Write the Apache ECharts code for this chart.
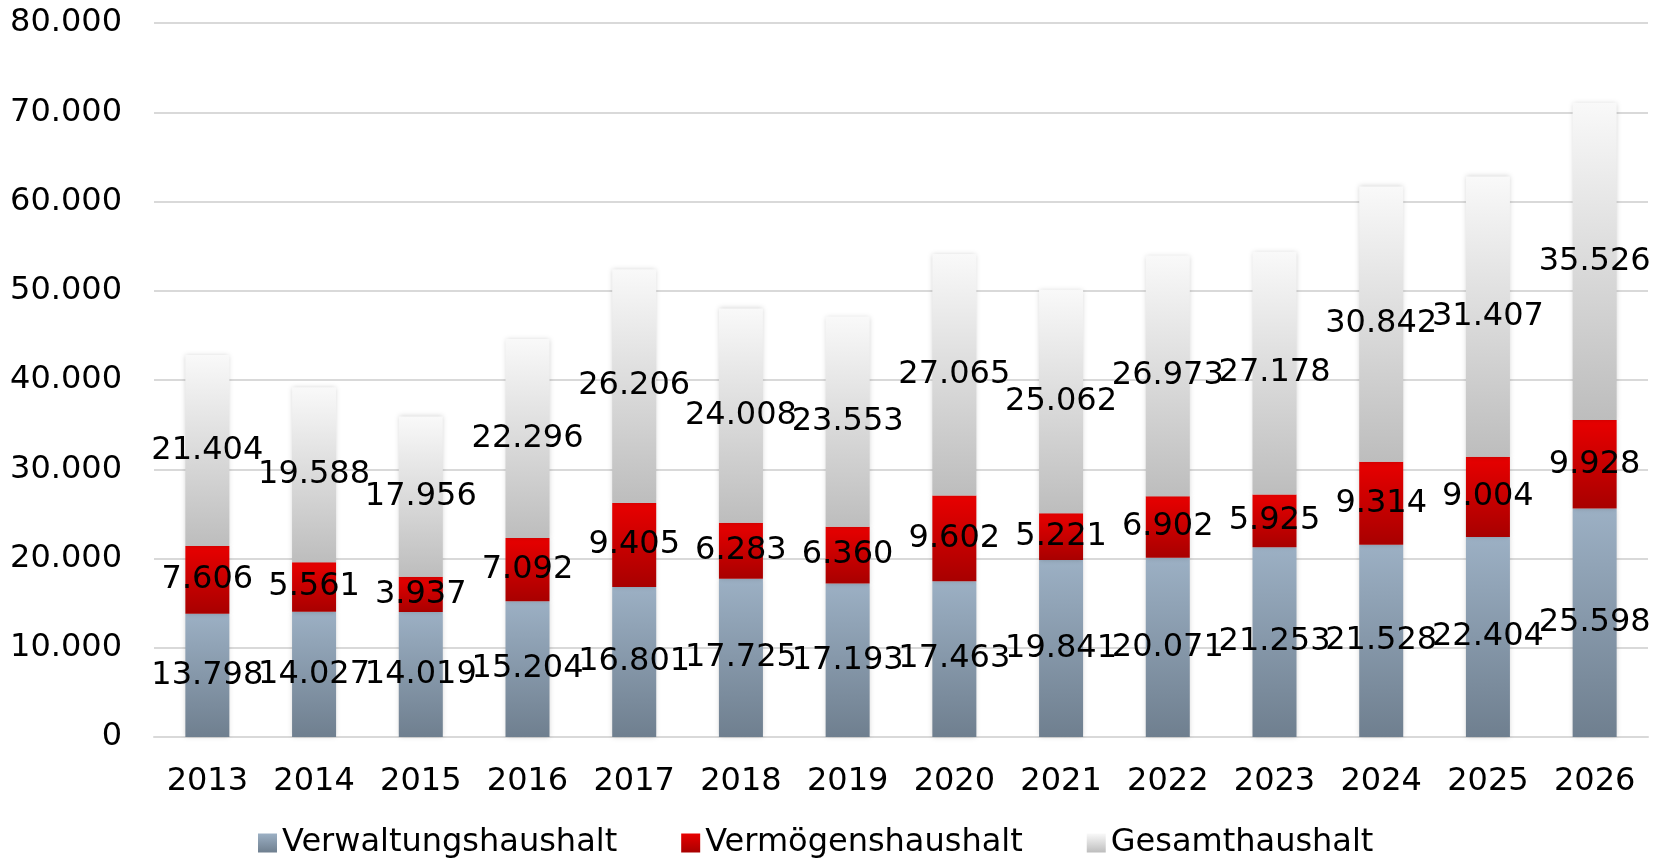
<!DOCTYPE html>
<html>
<head>
<meta charset="utf-8">
<script src="https://cdn.jsdelivr.net/npm/echarts@6/dist/echarts.min.js"></script>
<style>
html, body { margin: 0; padding: 0; background: #fff; }
#myChart { width: 1657px; height: 861px; }
</style>
</head>
<body>
<div id="myChart"></div>
<script>
var years = ['2013', '2014', '2015', '2016', '2017', '2018', '2019', '2020', '2021', '2022', '2023', '2024', '2025', '2026'];
var verwaltung = [13798, 14027, 14019, 15204, 16801, 17725, 17193, 17463, 19841, 20071, 21253, 21528, 22404, 25598];
var vermoegen = [7606, 5561, 3937, 7092, 9405, 6283, 6360, 9602, 5221, 6902, 5925, 9314, 9004, 9928];
var gesamt = [21404, 19588, 17956, 22296, 26206, 24008, 23553, 27065, 25062, 26973, 27178, 30842, 31407, 35526];

var fontName = 'DejaVu Sans';
var fontSize = 32;

// Zahl mit Tausenderpunkt
function fmt(v) {
    return String(v).replace(/\B(?=(\d{3})+(?!\d))/g, '.');
}

function grad(top, bottom) {
    return new echarts.graphic.LinearGradient(0, 0, 0, 1, [
        { offset: 0, color: top },
        { offset: 1, color: bottom }
    ]);
}

var labelCfg = {
    show: true,
    position: 'inside',
    color: '#000',
    fontFamily: fontName,
    fontSize: fontSize,
    formatter: function(p) { return fmt(p.value); }
};

var barShadow = {
    shadowBlur: 5,
    shadowColor: 'rgba(0,0,0,0.18)'
};

var myChart = echarts.init(document.getElementById('myChart'));
var option = {
    animation: false,
    textStyle: { fontFamily: fontName },
    grid: { left: 154, right: 9, top: 23, bottom: 124, containLabel: false },
    legend: {
        bottom: 2,
        left: 258,
        padding: 0,
        itemWidth: 19,
        itemHeight: 19,
        itemGap: 64,
        icon: 'rect',
        textStyle: { color: '#000', fontSize: fontSize, fontFamily: fontName },
        data: ['Verwaltungshaushalt', 'Vermögenshaushalt', 'Gesamthaushalt']
    },
    xAxis: {
        type: 'category',
        data: years,
        axisLine: { show: true, lineStyle: { color: '#d9d9d9', width: 2 } },
        axisTick: { show: false },
        axisLabel: { color: '#000', fontSize: fontSize, fontFamily: fontName, margin: 29, interval: 0 }
    },
    yAxis: {
        type: 'value',
        min: 0,
        max: 80000,
        interval: 10000,
        axisLine: { show: false },
        axisTick: { show: false },
        splitLine: { lineStyle: { color: '#d9d9d9', width: 2 } },
        axisLabel: { color: '#000', fontSize: fontSize, fontFamily: fontName, margin: 32, formatter: fmt }
    },
    series: [{
        name: 'Verwaltungshaushalt',
        type: 'bar',
        stack: 'a',
        barWidth: 44,
        data: verwaltung,
        itemStyle: Object.assign({ color: grad('#9cb0c4', '#6f7f8f') }, barShadow),
        label: labelCfg
    }, {
        name: 'Vermögenshaushalt',
        type: 'bar',
        stack: 'a',
        barWidth: 44,
        data: vermoegen,
        itemStyle: Object.assign({ color: grad('#e80000', '#a80000') }, barShadow),
        label: labelCfg
    }, {
        name: 'Gesamthaushalt',
        type: 'bar',
        stack: 'a',
        barWidth: 44,
        data: gesamt,
        itemStyle: Object.assign({ color: grad('#f9f9f9', '#bdbdbd') }, barShadow),
        label: labelCfg
    }]
};
myChart.setOption(option);
</script>
</body>
</html>
